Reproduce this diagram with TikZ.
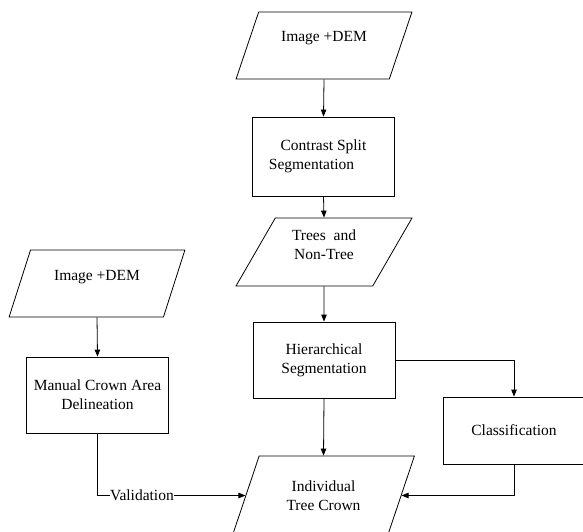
\documentclass[tikz,border=0pt]{standalone}
\usepackage{fontspec}
\setmainfont{Liberation Serif}
\usetikzlibrary{shapes.geometric,arrows.meta}
\tikzset{
  base/.style={draw, line width=0.8pt, inner sep=0pt, font=\fontsize{15.5pt}{19pt}\selectfont, align=center},
  procbox/.style={base, rectangle, minimum width=142pt, minimum height=#1},
  iobox/.style={base, trapezium, trapezium left angle=63, trapezium right angle=117,
    trapezium stretches=true, minimum width=#1, minimum height=67pt},
  conn/.style={line width=0.8pt, -{Triangle[length=7pt,width=5.5pt]}},
}
\begin{document}
\begin{tikzpicture}[x=1pt, y=-1pt]
\useasboundingbox (0,0) rectangle (583,532);
\clip (0,0) rectangle (583,532);
% nodes
\node[iobox=176pt] (img1) at (324,45.5) {\raisebox{19pt}{Image +DEM}};
\node[procbox=79pt] (contrast) at (323.5,156.5) {Contrast Split\\\hspace*{-24pt}Segmentation};
\node[iobox=176pt, minimum height=68pt] (trees) at (324,252) {\raisebox{28pt}{\begin{tabular}{@{}c@{}}Trees\ \ and\\Non-Tree\end{tabular}}};
\node[procbox=76pt] (hier) at (324,360) {Hierarchical\\Segmentation};
\node[procbox=67pt] (class) at (514,430.5) {Classification};
\node[iobox=182pt, minimum height=79pt] (indiv) at (323.5,495.5) {Individual\\Tree Crown};
\node[iobox=176pt] (img2) at (97,283.5) {\raisebox{17pt}{Image +DEM}};
\node[procbox=76pt] (manual) at (97.5,395) {Manual Crown Area\\Delineation};
% connectors
\draw[conn] (img1.south) -- (contrast.north);
\draw[conn] (contrast.south) -- (trees.north);
\draw[conn] (trees.south) -- (hier.north);
\draw[conn] (hier.east) -| (class.north);
\draw[conn] (hier.south) -- (indiv.north);
\draw[conn] (class.south) |- (indiv.east);
\draw[conn] (img2.south) -- (manual.north);
\draw[conn] (manual.south) |- node[pos=0.65, fill=white, inner sep=0.5pt, font=\fontsize{15.5pt}{19pt}\selectfont] {Validation} (indiv.west);
\end{tikzpicture}
\end{document}
